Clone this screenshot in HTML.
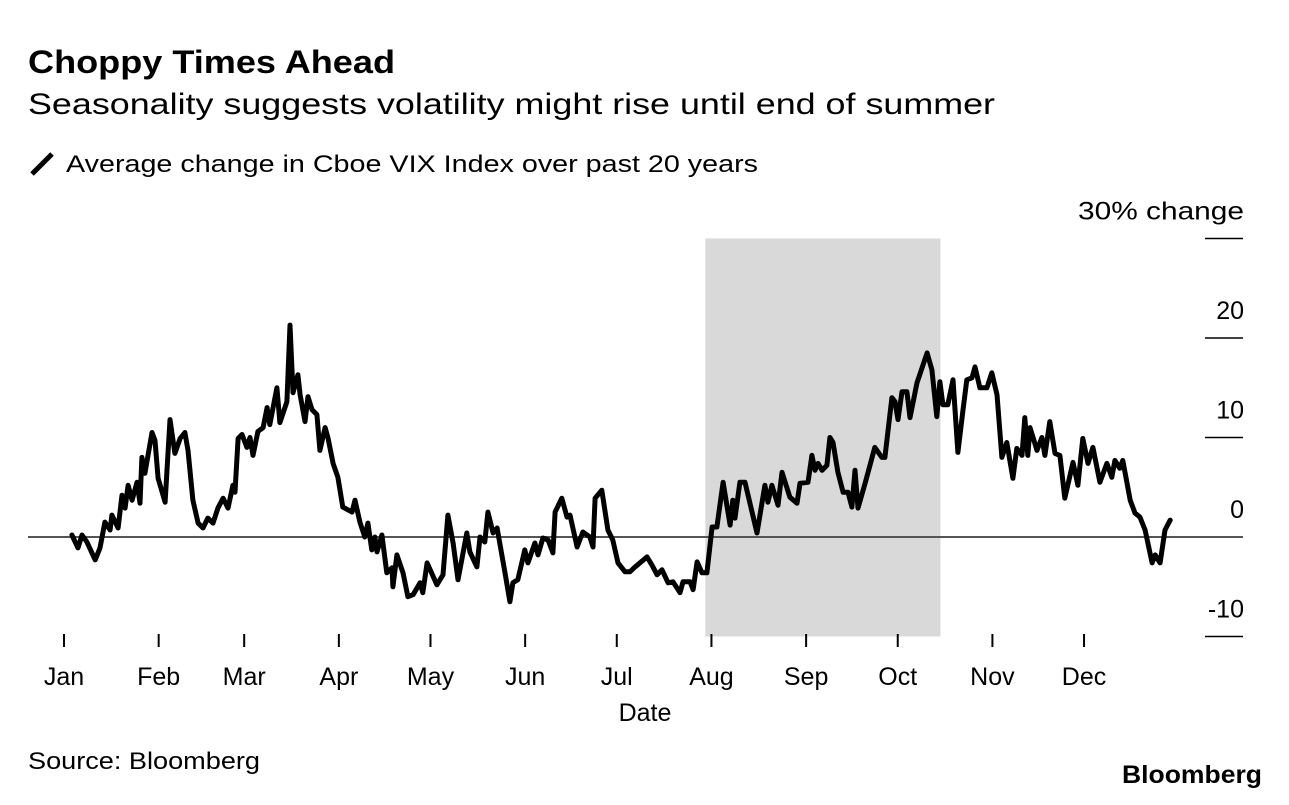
<!DOCTYPE html>
<html><head><meta charset="utf-8"><style>
html,body{margin:0;padding:0;background:#fff;}
body{width:1289px;height:800px;overflow:hidden;font-family:"Liberation Sans",Arial,sans-serif;}
</style></head><body>
<svg id="chart" width="1289" height="800" xmlns="http://www.w3.org/2000/svg" font-family="Liberation Sans, Arial, sans-serif">
<text x="28" y="73" font-size="32" font-weight="bold" fill="#000" textLength="367" lengthAdjust="spacingAndGlyphs">Choppy Times Ahead</text>
<text x="28" y="114" font-size="30" fill="#000" textLength="967" lengthAdjust="spacingAndGlyphs">Seasonality suggests volatility might rise until end of summer</text>
<g>
<line x1="32" y1="174" x2="52" y2="154" stroke="#000" stroke-width="5"/>
<text x="66" y="172" font-size="24" fill="#000" textLength="692" lengthAdjust="spacingAndGlyphs">Average change in Cboe VIX Index over past 20 years</text>
</g>
<g id="plot"></g>
<text x="645" y="721" font-size="25" text-anchor="middle" fill="#000">Date</text>
<text x="28" y="769" font-size="24" fill="#000" textLength="232" lengthAdjust="spacingAndGlyphs">Source: Bloomberg</text>
<text x="1122" y="783" font-size="25" font-weight="bold" fill="#000" textLength="140" lengthAdjust="spacingAndGlyphs">Bloomberg</text>
</svg>
<script>
const days=[2.6,4.6,5.9,7.5,10.2,11.8,13.4,15.1,15.7,17.7,19.0,20.0,21.0,22.3,23.9,24.9,25.5,26.5,28.8,29.8,30.8,33.1,34.7,36.3,38.0,39.6,40.6,42.2,43.9,45.5,47.1,48.8,50.4,52.1,53.7,55.3,56.0,57.0,58.3,59.9,60.9,61.9,63.5,65.2,66.5,67.4,69.7,70.7,73.0,74.0,75.0,76.6,77.3,78.9,79.9,81.2,82.8,83.8,85.5,86.4,88.1,89.7,91.3,94.3,95.3,96.9,98.5,99.5,100.8,101.8,102.5,104.1,105.7,107.4,107.7,109.0,111.0,112.6,114.3,116.6,117.5,118.9,122.1,124.1,125.7,127.4,129.0,131.9,132.9,135.2,136.2,137.8,138.8,140.5,141.8,144.4,146.0,147.0,148.6,150.9,151.9,154.2,155.2,156.8,158.5,160.1,160.8,163.0,164.7,165.7,168.0,169.9,172.2,173.2,173.9,176.1,178.1,179.7,181.4,183.7,185.3,187.0,190.9,192.5,194.2,195.8,197.8,199.4,201.7,202.7,205.0,206.0,207.3,208.9,210.5,212.2,213.8,215.8,218.1,219.0,219.7,221.3,223.0,226.9,229.5,230.5,231.8,233.8,235.1,237.7,240.0,241.0,243.6,244.9,245.9,246.9,248.2,249.8,250.8,251.8,253.4,255.1,256.7,258.0,259.0,260.0,262.3,265.5,267.8,268.8,271.1,272.1,273.1,274.4,276.0,277.0,279.3,282.6,284.2,285.8,286.8,287.8,289.4,291.1,292.7,294.3,295.6,297.3,298.3,299.9,302.2,303.8,305.5,307.1,308.7,310.7,312.0,313.7,314.6,315.6,316.3,318.6,320.2,321.2,322.8,324.5,326.1,327.7,330.4,332.0,333.6,335.3,336.9,339.2,341.5,343.1,344.1,345.7,346.7,349.1,350.7,352.3,354.0,356.3,357.3,358.9,360.5,362.2];
const values=[0.2,-1.1,0.2,-0.5,-2.3,-1.1,1.5,0.7,2.2,0.9,4.2,2.9,5.2,3.7,5.5,3.4,8.0,6.4,10.5,9.7,5.9,3.5,11.8,8.4,9.9,10.5,8.7,3.7,1.4,0.9,1.9,1.4,2.9,3.9,2.9,5.2,4.5,9.9,10.3,9.0,10.0,8.2,10.6,11.0,13.0,11.3,15.0,11.5,13.6,21.3,14.5,16.3,14.3,11.6,14.1,12.8,12.3,8.7,11.0,10.0,7.4,6.0,3.0,2.5,3.7,1.5,0,1.4,-1.3,0,-1.5,0.2,-3.6,-3.1,-5.0,-1.8,-3.6,-6.0,-5.8,-4.6,-5.6,-2.6,-4.8,-3.8,2.2,-0.6,-4.3,0.4,-1.5,-3.0,0,-0.5,2.5,0.4,0.9,-3.6,-6.5,-4.6,-4.3,-1.3,-2.6,-0.6,-1.8,-0.1,-0.3,-1.6,2.5,3.9,2.0,2.2,-1.0,0.5,0,-1.0,3.9,4.7,0.7,-0.3,-2.6,-3.5,-3.5,-3.0,-2.0,-2.8,-3.8,-3.3,-4.6,-4.5,-5.6,-4.5,-4.5,-5.3,-2.5,-3.6,-3.6,1.0,1.0,5.5,1.2,3.7,1.9,5.5,5.5,0.4,5.2,3.5,5.2,3.2,6.5,4.0,3.4,5.4,5.5,8.2,6.7,7.4,6.7,7.2,10.0,9.5,6.5,4.5,4.5,3.0,6.7,2.9,5.4,9.0,8.0,8.0,14.0,13.6,11.8,14.6,14.6,12.0,15.5,18.5,16.8,12.1,15.6,13.3,13.3,15.8,8.5,12.6,15.8,16.0,17.1,15.0,15.0,16.5,14.3,8.0,9.5,5.9,8.9,8.2,12.0,8.2,11.0,8.7,10.0,8.2,11.6,8.4,8.2,3.9,7.5,5.2,9.9,7.4,9.0,5.5,7.4,6.0,7.7,6.9,7.7,3.7,2.4,2.0,0.7,-2.6,-1.8,-2.6,0.7,1.7];
const monthLabels=["Jan","Feb","Mar","Apr","May","Jun","Jul","Aug","Sep","Oct","Nov","Dec"];
const monthStarts=[0,31,59,90,120,151,181,212,243,273,304,334];
const yTicks=[30,20,10,0,-10];
const yTickLabels=["30% change","20","10","0","-10"];
const shadeRange=[210,287];

const NS="http://www.w3.org/2000/svg";
const plot=document.getElementById('plot');
const X=d=>64+d*3.054;
const Y=v=>537-v*9.95;
function mk(t,a){const e=document.createElementNS(NS,t);for(const k in a)e.setAttribute(k,a[k]);plot.appendChild(e);return e;}

const sh=mk('rect',{x:X(shadeRange[0]),y:Y(30),width:X(shadeRange[1])-X(shadeRange[0]),height:Y(-10)-Y(30),fill:'#d9d9d9'});



yTicks.forEach((v,i)=>{
  const l=mk('line',{x1:1205,x2:1243,y1:Y(v),y2:Y(v),stroke:'#000','stroke-width':1.5});
  
  
  const t=mk('text',{x:1244,y:Y(v)-19,'font-size':25,'text-anchor':'end',fill:'#000'});
  t.textContent=yTickLabels[i];
  if(i===0){t.setAttribute('textLength','166');t.setAttribute('lengthAdjust','spacingAndGlyphs');}
  
  
});
const z=mk('line',{x1:28,x2:1243,y1:Y(0),y2:Y(0),stroke:'#555','stroke-width':2});



monthStarts.forEach((d,i)=>{
  const l=mk('line',{x1:X(d),x2:X(d),y1:634,y2:647,stroke:'#000','stroke-width':2});
  
  
  const t=mk('text',{x:X(d),y:685,'font-size':25,'text-anchor':'middle',fill:'#000'});
  t.textContent=monthLabels[i];
  
  
});

const pts=days.map((d,i)=>X(d).toFixed(1)+','+Y(values[i]).toFixed(1)).join(' ');
const pl=mk('polyline',{points:pts,fill:'none',stroke:'#000','stroke-width':5,'stroke-linejoin':'round','stroke-linecap':'round'});


</script>
</body></html>
